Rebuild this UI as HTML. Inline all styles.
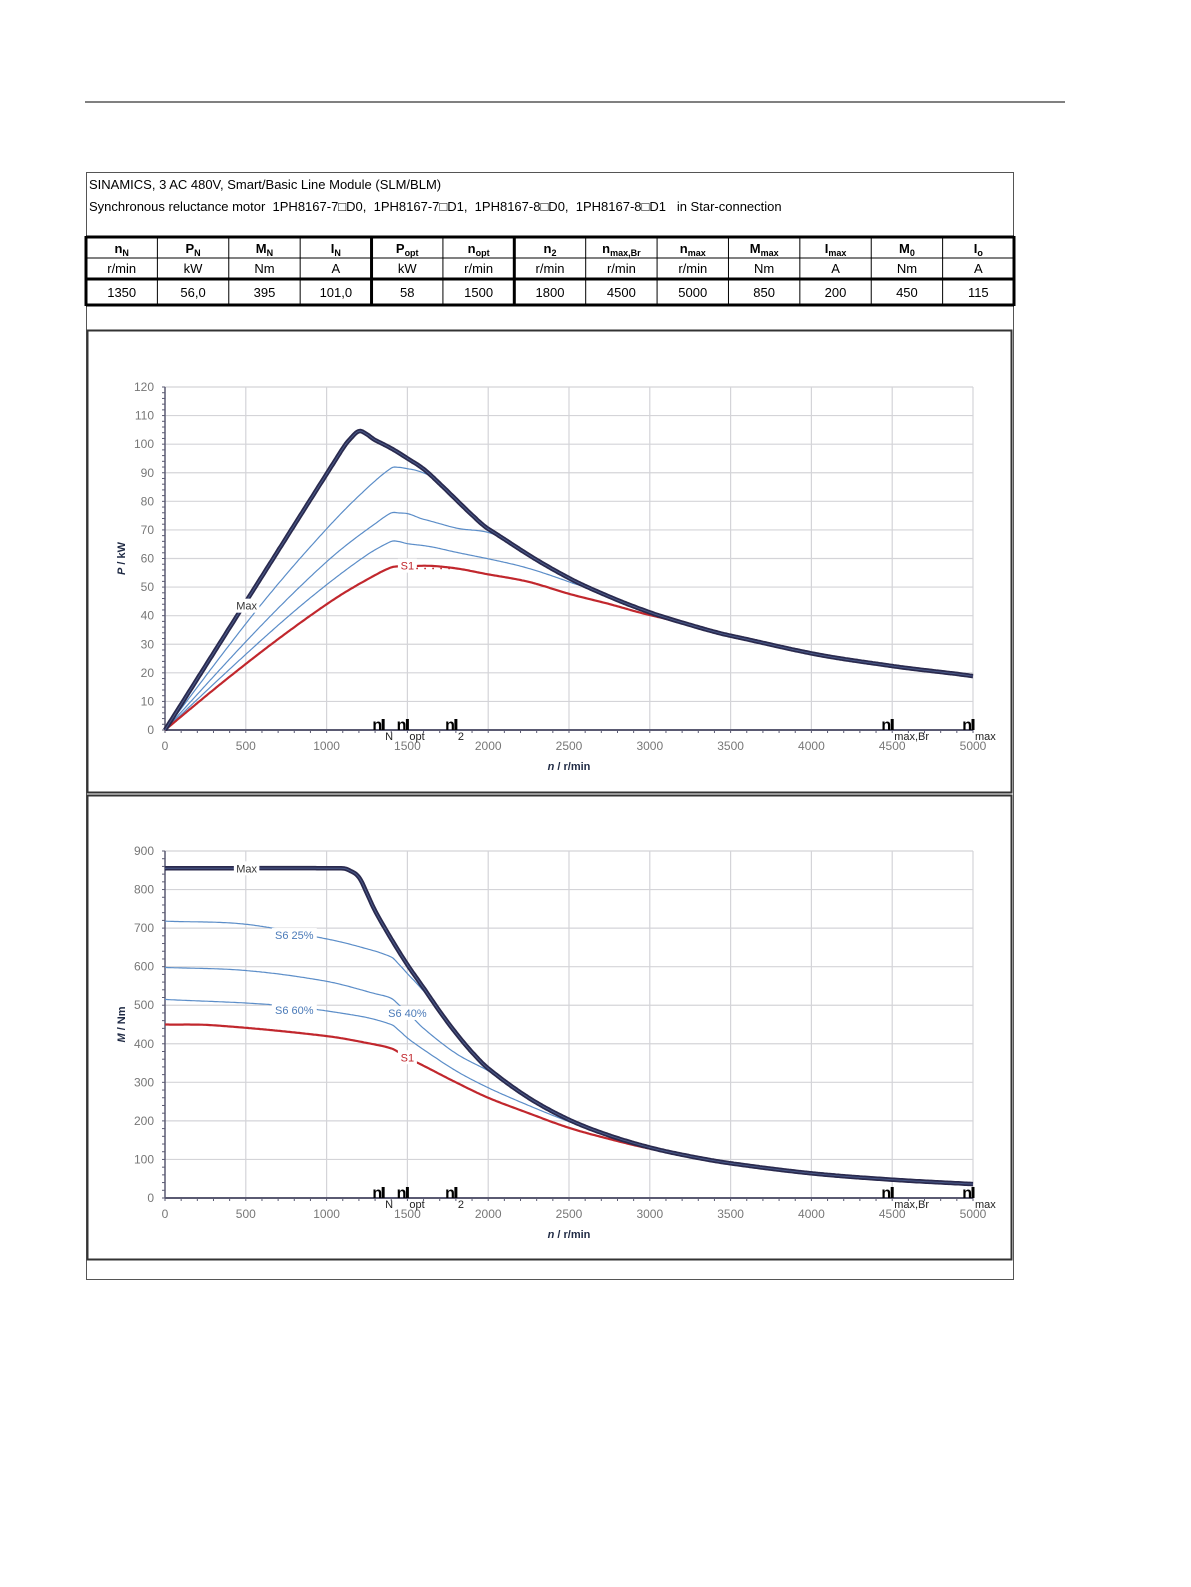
<!DOCTYPE html>
<html><head><meta charset="utf-8">
<style>
html,body{margin:0;padding:0;background:#fff;width:1191px;height:1587px;overflow:hidden}
svg{position:absolute;left:0;top:0}
</style></head><body>
<svg id="s" width="1191" height="1587" xmlns="http://www.w3.org/2000/svg" font-family="Liberation Sans, sans-serif"></svg>
<script>
var S=document.getElementById('s');var out='';
function L(x1,y1,x2,y2,c,w){out+='<line x1="'+x1+'" y1="'+y1+'" x2="'+x2+'" y2="'+y2+'" stroke="'+c+'" stroke-width="'+w+'"/>';}
function T(x,y,t,sz,c,anc,extra){out+='<text x="'+x+'" y="'+y+'" font-size="'+sz+'" fill="'+c+'" text-anchor="'+(anc||'start')+'" '+(extra||'')+'>'+t+'</text>';}
L(85,102,1065,102,'#000',1);
out+='<rect x="86.5" y="172.5" width="927" height="1107" fill="none" stroke="#555" stroke-width="1"/>';
T(89,189,'SINAMICS, 3 AC 480V, Smart/Basic Line Module (SLM/BLM)',13,'#000');
T(89,211,'Synchronous reluctance motor&#160; 1PH8167-7\u25A1D0,&#160; 1PH8167-7\u25A1D1,&#160; 1PH8167-8\u25A1D0,&#160; 1PH8167-8\u25A1D1 &#160; in Star-connection',13,'#000');
var cols=[];for(var i=0;i<=13;i++)cols.push(86+i*(928/13));
var h1=[['n','N'],['P','N'],['M','N'],['I','N'],['P','opt'],['n','opt'],['n','2'],['n','max,Br'],['n','max'],['M','max'],['I','max'],['M','0'],['I','o']];
var h2=['r/min','kW','Nm','A','kW','r/min','r/min','r/min','r/min','Nm','A','Nm','A'];
var h3=['1350','56,0','395','101,0','58','1500','1800','4500','5000','850','200','450','115'];
L(86,237,1014,237,'#000',3);L(86,258,1014,258,'#000',1);L(86,279,1014,279,'#000',3);L(86,305,1014,305,'#000',3);
for(var i=0;i<=13;i++){var x=cols[i];var w=(i==0||i==13||i==4||i==6)?3:1;L(x,236,x,306,'#000',w);}
for(var i=0;i<13;i++){var cx=(cols[i]+cols[i+1])/2;
out+='<text x="'+cx+'" y="253" font-size="13" font-weight="bold" text-anchor="middle">'+h1[i][0]+'<tspan font-size="9" dy="3">'+h1[i][1]+'</tspan></text>';
T(cx,273,h2[i],13,'#000','middle');T(cx,297,h3[i],13,'#000','middle');}
out+='<rect x="87.5" y="330.5" width="924" height="462" fill="none" stroke="#333" stroke-width="2"/>';
out+='<rect x="87.5" y="795.5" width="924" height="464" fill="none" stroke="#333" stroke-width="2"/>';
function interp(p,n){for(var i=1;i<p.length;i++){if(n<=p[i][0]){var a=p[i-1],b=p[i];var t=(n-a[0])/(b[0]-a[0]);
 var p0=i>1?p[i-2]:a,p3=i<p.length-1?p[i+1]:b;
 var m1=(b[1]-p0[1])/(b[0]-p0[0])*(b[0]-a[0]),m2=(p3[1]-a[1])/(p3[0]-a[0])*(b[0]-a[0]);
 if(i==1)m1=b[1]-a[1]; if(i==p.length-1)m2=b[1]-a[1];
 var t2=t*t,t3=t2*t;return (2*t3-3*t2+1)*a[1]+(t3-2*t2+t)*m1+(-2*t3+3*t2)*b[1]+(t3-t2)*m2;}}return p[p.length-1][1];}
var MX=[[0,855],[1100,855],[1140,850],[1200,832],[1250,790],[1300,745],[1400,672],[1500,605],[1600,545],[1700,484],[1800,428],[1900,378],[2000,336],[2250,260],[2500,203],[2750,162],[3000,131],[3250,108],[3500,90],[4000,64],[4500,47.5],[5000,36]];
var S25=[[0,718],[500,710],[1000,672],[1200,652],[1400,625],[1450,605],[1500,582],[1550,560],[1700,490]];
var S40=[[0,598],[500,590],[1000,562],[1300,530],[1400,518],[1450,500],[1500,482],[1600,440],[1800,375],[2000,330],[2200,280]];
var S60=[[0,515],[700,500],[1200,472],[1400,450],[1450,434],[1500,415],[1600,385],[1800,330],[2000,286],[2250,240],[2500,198],[2700,170]];
var S1=[[0,450],[300,448],[1000,420],[1300,398],[1400,388],[1450,377],[1500,364],[1600,343],[1800,300],[2000,260],[2250,220],[2500,182],[2750,153],[3000,128],[3500,90],[4000,64]];
function tq(p,n){var m=interp(MX,n);if(p===MX)return m;return Math.min(interp(p,n),m);}
function chart(yb,yt,vmax,step,mode,ylabel){
 var x0=165,x1=973;var X=function(n){return x0+(x1-x0)*n/5000};var Y=function(v){return yb-(yb-yt)*v/vmax};
 for(var n=500;n<=5000;n+=500)L(X(n),yt,X(n),yb,'#d4d4d8',1.2);
 for(var v=step;v<=vmax;v+=step)L(x0,Y(v),x1,Y(v),'#d4d4d8',1.2);
 L(x0,yt,x0,yb,'#5a5a72',1.5);L(x0,yb,x1,yb,'#5a5a72',2);
 for(var v=0;v<=vmax;v+=step/5)L(x0-3,Y(v),x0,Y(v),'#5a5a72',1);
 for(var n=0;n<=5000;n+=100)L(X(n),yb,X(n),yb+3,'#5a5a72',1);
 for(var v=0;v<=vmax;v+=step)T(x0-11,Y(v)+4,v,12,'#777','end');
 for(var n=0;n<=5000;n+=500)T(X(n),yb+20,n,12,'#777','middle');
 out+='<text x="0" y="0" transform="translate('+(x0-40)+','+((yb+yt)/2)+') rotate(-90)" font-size="11" font-weight="bold" fill="#1f2a44" text-anchor="middle"><tspan font-style="italic">'+ylabel[0]+'</tspan> / '+ylabel[1]+'</text>';
 out+='<text x="569" y="'+(yb+40)+'" font-size="11" font-weight="bold" fill="#1f2a44" text-anchor="middle"><tspan font-style="italic">n</tspan> / r/min</text>';
 function path(p,c,w,from,to){var d='';for(var n=from;n<=to;n+=10){var m=tq(p,n);var v=mode?m*n*2*Math.PI/60/1000:m;d+=(d?'L':'M')+X(n).toFixed(1)+','+Y(v).toFixed(1);}out+='<path d="'+d+'" fill="none" stroke="'+c+'" stroke-width="'+w+'" stroke-linejoin="round"/>';}
 path(S25,'#5b8dc8',1.2,0,2000);path(S40,'#5b8dc8',1.2,0,2400);path(S60,'#5b8dc8',1.2,0,2900);
 path(S1,'#c1272d',2.2,0,5000);
 path(MX,'#2a2a4e',4.5,0,5000);path(MX,'#4a5a8a',1,0,5000);
 function lab(n,v,t,c){var x=X(n),y=Y(v);var w=t.length*6.5+6;out+='<rect x="'+(x-w/2)+'" y="'+(y-7)+'" width="'+w+'" height="14" fill="#fff"/>';T(x,y+4,t,11,c,'middle');}
 if(mode){lab(505,43.5,'Max','#333');lab(1500,57.5,'S1','#c1272d');
   for(var i=0;i<5;i++)out+='<circle cx="'+(X(1560)+i*8)+'" cy="'+Y(56.5)+'" r="0.9" fill="#c1272d"/>';}
 else{lab(505,855,'Max','#333');lab(800,682,'S6 25%','#4a7ab8');lab(800,488,'S6 60%','#4a7ab8');lab(1500,480,'S6 40%','#4a7ab8');lab(1500,365,'S1','#c1272d');}
 var mk=[[1350,'N'],[1500,'opt'],[1800,'2'],[4500,'max,Br'],[5000,'max']];
 mk.forEach(function(m){var x=X(m[0]);L(x,yb-11,x,yb,'#000',3);
  out+='<text x="'+(x-1)+'" y="'+(yb)+'" font-size="16" font-weight="bold" text-anchor="end">n</text>';
  T(x+2,yb+10,m[1],11,'#222');});
}
chart(730,387,120,10,1,['P','kW']);
chart(1198,851,900,100,0,['M','Nm']);
S.innerHTML=out;
</script>
</body></html>
